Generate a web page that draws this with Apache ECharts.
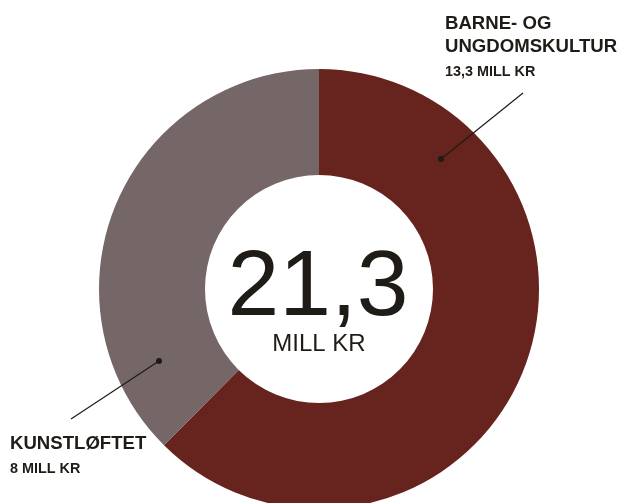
<!DOCTYPE html>
<html>
<head>
<meta charset="utf-8">
<script src="https://cdn.jsdelivr.net/npm/echarts@6/dist/echarts.min.js"></script>
<style>
  html, body { margin: 0; padding: 0; background: #fff; }
  #main { width: 623px; height: 503px; }
</style>
</head>
<body>
<div id="main"></div>
<script>
var categories = ["BARNE- OG\nUNGDOMSKULTUR", "KUNSTLØFTET"];
var values = [13.3, 8];
var valueLabels = ["13,3 MILL KR", "8 MILL KR"];
var totalLabel = "21,3";
var totalUnit = "MILL KR";

var colors = ["#67231e", "#756667"];
var ink = "#1f1b16";

// where each label goes, and its leader line (start point sits inside the ring)
var labelSpots = [
  { x: 445, y: 12, line: [[441, 159], [523, 93]] },
  { x: 10, y: 432, line: [[159, 361], [71, 419]] }
];

var leaders = [];
labelSpots.forEach(function (s) {
  leaders.push({ type: "polyline", shape: { points: s.line }, style: { stroke: ink, lineWidth: 1.2 }, z: 100 });
  leaders.push({ type: "circle", shape: { cx: s.line[0][0], cy: s.line[0][1], r: 3 }, style: { fill: ink }, z: 100 });
});

var myChart = echarts.init(document.getElementById("main"));
myChart.setOption({
  animation: false,
  color: colors,
  graphic: [
    {
      type: "text",
      style: {
        text: totalLabel, x: 318, y: 289, align: "center", verticalAlign: "middle",
        fontFamily: "Liberation Sans", fontSize: 93, fill: ink,
      },
    },
    {
      type: "text",
      style: {
        text: totalUnit, x: 319, y: 344, align: "center", verticalAlign: "middle",
        fontFamily: "Liberation Sans", fontSize: 24, fill: ink,
      },
    },
  ].concat(leaders),
  series: [
    {
      type: "pie",
      center: [319, 289],
      radius: [114, 220],
      startAngle: 90,
      clockwise: true,
      avoidLabelOverlap: false,
      silent: true,
      data: categories.map(function (name, i) {
        return { name: name, value: values[i] };
      }),
      label: {
        show: true,
        position: "outside",
        formatter: function (p) {
          return "{t|" + p.name + "}\n{v|" + valueLabels[p.dataIndex] + "}";
        },
        rich: {
          t: { fontFamily: "Liberation Sans", fontWeight: "bold", fontSize: 18.6, lineHeight: 23, color: ink },
          v: { fontFamily: "Liberation Sans", fontWeight: "bold", fontSize: 14.4, lineHeight: 28, color: ink },
        },
      },
      labelLine: { show: false },
      labelLayout: function (p) {
        var s = labelSpots[p.dataIndex];
        return { x: s.x, y: s.y, align: "left", verticalAlign: "top" };
      },
    },
  ],
});
</script>
</body>
</html>
